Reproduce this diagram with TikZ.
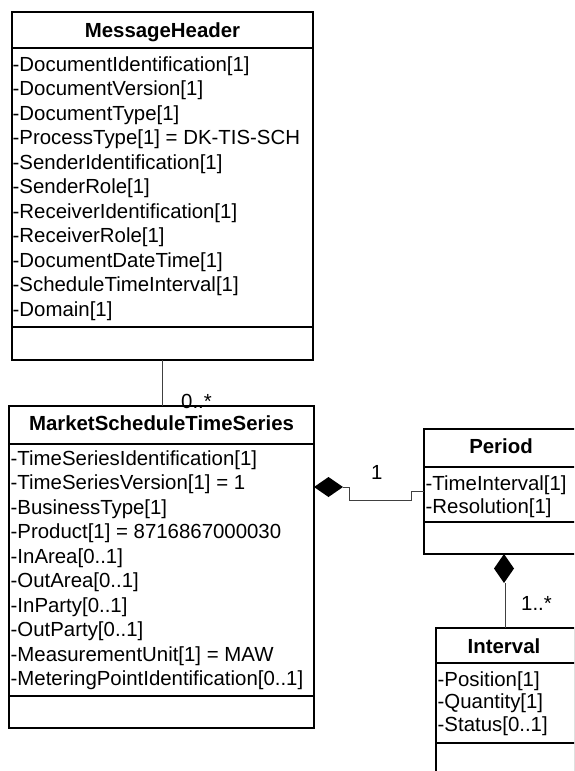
\documentclass[tikz,border=0pt]{standalone}
\usepackage{fontspec}
\setmainfont{Liberation Sans}
\usetikzlibrary{shapes.geometric}
\begin{document}
\begin{tikzpicture}[x=1pt,y=-1pt,
  box/.style={draw=black, line width=1.4pt, inner sep=0pt, outer sep=0pt, anchor=north west},
  sepline/.style={black, line width=1.4pt},
  title/.style={font=\fontsize{20.4}{24}\selectfont\bfseries, anchor=base, inner sep=0pt},
  attr/.style={font=\fontsize{20.4}{24}\selectfont, anchor=base west, inner sep=0pt},
  lbl/.style={font=\fontsize{20.4}{24}\selectfont, anchor=base west, inner sep=0pt},
  conn/.style={draw=black!75, line width=1pt},
  comp/.style={shape=diamond, fill=black, draw=none, inner sep=0pt, outer sep=0pt, minimum width=29pt, minimum height=20pt}]
\useasboundingbox (0,0) rectangle (574,771);
\clip (0,0) rectangle (574,771);
\fill[white] (0,0) rectangle (574,771);

% MessageHeader
\node[box, minimum width=301pt, minimum height=348pt] (mh) at (12,12) {};
\draw[sepline] (mh.west |- 0,48) -- (mh.east |- 0,48);
\draw[sepline] (mh.west |- 0,327) -- (mh.east |- 0,327);
\node[title] (mht) at (162.5,37) {MessageHeader};
\foreach \t [count=\i from 0] in {-DocumentIdentification[1],-DocumentVersion[1],-DocumentType[1],-ProcessType[1] = DK-TIS-SCH,-SenderIdentification[1],-SenderRole[1],-ReceiverIdentification[1],-ReceiverRole[1],-DocumentDateTime[1],-ScheduleTimeInterval[1],-Domain[1]}
  \node[attr] (mha\i) at (12.5,71+24.5*\i) {\t};

% MarketScheduleTimeSeries
\node[box, minimum width=305pt, minimum height=322pt] (mst) at (9,406) {};
\draw[sepline] (mst.west |- 0,444) -- (mst.east |- 0,444);
\draw[sepline] (mst.west |- 0,696) -- (mst.east |- 0,696);
\node[title] (mstt) at (161.5,430) {MarketScheduleTimeSeries};
\foreach \t [count=\i from 0] in {-TimeSeriesIdentification[1],-TimeSeriesVersion[1] = 1,-BusinessType[1],-Product[1] = 8716867000030,-InArea[0..1],-OutArea[0..1],-InParty[0..1],-OutParty[0..1],-MeasurementUnit[1] = MAW,-MeteringPointIdentification[0..1]}
  \node[attr] (msta\i) at (10.5,465+24.5*\i) {\t};

% Period
\node[box, minimum width=156pt, minimum height=125pt] (per) at (424,429) {};
\draw[sepline] (per.west |- 0,467) -- (per.east |- 0,467);
\draw[sepline] (per.west |- 0,522) -- (per.east |- 0,522);
\node[title] (pert) at (501,453) {Period};
\node[attr] (pera0) at (425.5,490) {-TimeInterval[1]};
\node[attr] (pera1) at (425.5,513.5) {-Resolution[1]};

% Interval
\node[box, minimum width=139pt, minimum height=160pt] (itv) at (436,628) {};
\draw[sepline] (itv.west |- 0,663) -- (itv.east |- 0,663);
\draw[sepline] (itv.west |- 0,743) -- (itv.east |- 0,743);
\node[title] (itvt) at (504,653) {Interval};
\node[attr] (itva0) at (437.5,686) {-Position[1]};
\node[attr] (itva1) at (437.5,708.5) {-Quantity[1]};
\node[attr] (itva2) at (437.5,731) {-Status[0..1]};

% MessageHeader -- MarketScheduleTimeSeries
\draw[conn] (mh.south -| 162,0) -- (mst.north -| 162,0);
\node[lbl] (l1) at (181,408) {0..*};

% Composition MST <>-- Period
\node[comp] (d1) at (328.5,487) {};
\draw[conn] (d1.east) -- ++(6,0) -- ++(0,13) -- ++(62,0) -- ++(0,-9) -- (per.west |- 0,491);
\node[lbl] (l2) at (371,479) {1};

% Composition Period <>-- Interval
\node[comp, minimum width=20pt, minimum height=29pt] (d2) at (504,568.5) {};
\draw[conn] (d2.south -| 505,0) -- (itv.north -| 505,0);
\node[lbl] (l3) at (521,610) {1..*};
\end{tikzpicture}
\end{document}
